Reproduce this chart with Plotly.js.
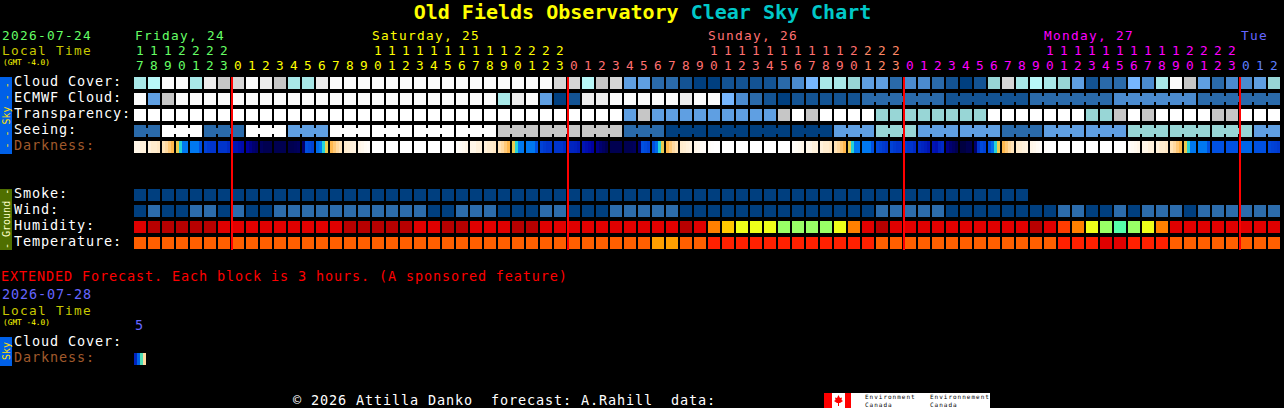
<!DOCTYPE html>
<html><head><meta charset="utf-8"><title>Clear Sky Chart</title>
<script src="https://cdn.plot.ly/plotly-3.0.1.min.js"></script>
<style>html,body{margin:0;padding:0;background:#000;overflow:hidden}#chart{width:1284px;height:408px}</style>
</head><body><div id="chart"></div>
<script>
// ---------- data ----------
const hours = [17,18,19,20,21,22,23,
 0,1,2,3,4,5,6,7,8,9,10,11,12,13,14,15,16,17,18,19,20,21,22,23,
 0,1,2,3,4,5,6,7,8,9,10,11,12,13,14,15,16,17,18,19,20,21,22,23,
 0,1,2,3,4,5,6,7,8,9,10,11,12,13,14,15,16,17,18,19,20,21,22,23,
 0,1,2];
const cloudCover = [7,8,12,12,7,11,9,10,12,11,9,7,7,11,
 12,12,12,12,12,12,12,12,12,12,12,12,12,12,12,12,
 10,10,8,9,10,4,4,2,2,1,0,0,1,1,1,1,2,3,5,7,7,6,
 4,4,2,3,3,2,1,0,1,6,10,7,8,7,6,4,1,2,2,5,3,7,12,9,4,2,3,3,4,6];
const ecmwfCloud = [12,4,9,12,12,12,12,12,12,12,12,12,12,12,12,12,12,12,12,12,12,12,12,12,12,12,
 7,11,12,4,0,1,11,11,12,12,12,12,12,11,12,12,5,3,2,1,0,1,1,1,1,1,
 2,2,2,2,2,2,1,1,1,1,1,1,2,2,2,2,2,2,3,3,3,3,3,3,2,2,2,2,2,2];
const transparency = [13,13,13,13,13,13,13,13,13,13,13,13,13,13,13,13,13,13,13,13,13,13,13,13,13,13,13,13,13,13,13,13,13,13,13,
 4,9,4,4,4,4,4,4,4,4,4,9,13,9,13,13,13,13,
 6,6,6,6,6,6,6,6,13,13,13,13,13,13,13,6,6,9,13,9,13,13,13,13,9,9,13,13,13];
const seeing = [2,2,13,13,13,2,2,2,13,13,13,4,4,4,13,13,13,13,13,13,13,13,13,13,13,13,
 9,9,9,9,9,9,9,9,9,2,2,2,0,0,0,0,0,0,0,0,0,0,0,0,
 4,4,4,6,6,6,4,4,4,4,4,4,2,2,2,4,4,4,4,4,4,6,6,6,6,6,6,6,6,6,4,4];
const darkness = [
 1,1,1.5,1.5, 1.5,2,2,2.2, 2.5,3,3.5,4, 4.6,6.2,8,8, 8,8,8,9, 9.5,9.8,10,10, 10,10,10,10.3,
 11,11,11.3,11.5, 12,12.5,13,13.3, 13.6,14,14,14, 14,14,14,14, 14,14,13.8,13.6, 13,9,9.2,9.5, 8.3,8,6.2,4.6,
 4,3.5,3,2.5, 2,1.8,1.5,1.3, 1,0.8,0.5,0.3, 0,0,0,0, 0,0,0,0, 0,0,0,0, 0,0,0,0, 0,0,0,0, 0,0,0,0, 0.3,0.5,0.7,1,
 1,1,1.5,1.5, 1.5,2,2,2.2, 2.5,3,3.5,4, 4.6,6.2,8,8, 8,8,8,9, 9.5,9.8,10,10, 10,10,10,10.3,
 10.5,10.5,10.6,10.8, 11,11.3,11.6,12, 12.5,13,13.5,14, 14,14,14,14, 14,14,13.8,13.6, 13,9,9.2,9.5, 9,8.3,6.2,4.6,
 4,3.5,3,2.5, 2,1.8,1.5,1.3, 1,0.8,0.5,0.3, 0.2,0.1,0,0, 0,0,0,0, 0,0,0,0, 0,0,0,0, 0,0,0,0, 0,0,0,0, 0.3,0.5,0.7,1,
 1,1,1.5,1.5, 1.5,2,2,2.2, 2.5,3,3.5,4, 4.6,6.2,8,8, 8,8,8,9, 9.3,9.5,9.8,10, 9.5,9.8,10,10,
 9.8,10,10,10.3, 10.3,10.5,10.7,11, 11,11.2,10.5,10.3, 12.5,13,13.5,14, 14.5,14.5,14,14, 13,10,9.2,9.5, 9,8.3,6.2,4.6,
 4,3.5,3,2.5, 2,1.8,1.5,1.3, 1,0.8,0.5,0.3, 0.2,0.1,0,0, 0,0,0,0, 0,0,0,0, 0,0,0,0, 0,0,0,0, 0,0,0,0, 0.3,0.5,0.7,1,
 1,1,1.5,1.5, 1.5,2,2,2.2, 2.5,3,3.5,4, 4.6,6.2,8,8, 8,8,8,9, 9,9,9,9, 9,9,9,9, 8.5,8.5,8.5,8.5, 9,9,9,9, 9.3,9.5,9.6,9.8];
const extendedDarkness = [10.5,8.5,5.8,3];
const smoke = [0,0,0,0,0,0,0,0,0,0,0,0,0,0,0,0,0,0,0,0,0,0,0,0,0,0,0,0,0,0,0,0,
 0,0,0,0,0,0,0,0,0,0,0,0,0,0,0,0,0,0,0,0,0,0,0,0,0,0,0,0,0,0,0,0];
const wind = [3,9,3,3,9,9,3,9,3,3,9,9,9,9,9,9,9,9,9,9,9,
 3,3,9,9,9,3,3,3,9,9,3,3,3,9,9,9,9,9,3,3,3,3,3,3,3,3,3,3,3,3,3,
 3,9,9,9,9,9,3,3,3,3,3,3,3,3,9,9,3,3,9,3,9,9,9,3,9,9,9,9,9,9];
const humidity = [95,100,100,100,100,100,95,95,95,95,95,95,95,95,95,100,100,100,100,100,95,
 95,100,100,95,95,95,100,100,95,95,95,95,95,95,95,95,95,95,100,95,80,75,70,70,70,65,65,65,65,70,80,
 95,100,95,95,95,95,95,95,95,95,95,95,100,95,85,80,70,65,60,65,70,80,95,95,95,95,95,95,95,95];
const temperature = [25,25,25,25,25,25,25,25,25,25,25,25,25,25,25,25,25,25,25,25,25,
 25,25,25,25,25,25,25,25,25,25,25,25,25,25,25,25,20,20,25,25,30,30,30,30,30,30,30,30,30,30,30,
 30,25,25,25,25,25,25,25,25,25,25,25,25,25,30,30,30,33,33,30,30,30,25,25,25,25,25,25,25,25];

const skyPalette = ['#003f7f','#135393','#2a6aaa','#4b8bcf','#5f9fe2','#76b6fe','#98d6d6','#a8e8e8',
 '#b8f8f8','#c6c6c6','#d6d6d6','#ececec','#fbfbfb','#ffffff'];
const humidityLevels = [60,65,70,75,80,85,95,100];
const humidityPalette = ['#55ffaa','#99ff66','#eeff1a','#ffc800','#ff8000','#ff3c00','#e00000','#b80000'];
const temperatureLevels = [20,25,30,33];
const temperaturePalette = ['#ffa000','#ff5f00','#ff2000','#e00000'];
const windLevels = [3,9];
const windPalette = ['#003f7f','#2c6cac'];
const darknessStops = ['#ffffff','#fff6e8','#ffecce','#ffd9a0','#ffb84d','#d8d850','#30e0d0','#00a0f0',
 '#0078f0','#0050e0','#0034cc','#0014b4','#0000a0','#000070','#000050','#000030'];

const rowLabels = [['Cloud Cover:',81,'#fff'],['ECMWF Cloud:',97,'#fff'],['Transparency:',113,'#fff'],['Seeing:',129,'#fff'],
 ['Darkness:',145,'#a05a2c'],['Smoke:',193,'#fff'],['Wind:',209,'#fff'],['Humidity:',225,'#fff'],['Temperature:',241,'#fff'],
 ['Cloud Cover:',341,'#fff'],['Darkness:',357,'#a05a2c']];
const midnights = [7,31,55,79];
const dayHeaders = [['Friday, 24',135,'#66ff66'],['Saturday, 25',372,'#ffff00'],['Sunday, 26',708,'#ff7070'],
 ['Monday, 27',1044,'#ff00ff'],['Tue',1241,'#6666ff']];

// ---------- pixel helpers (whole window is the plot) ----------
const W = 1284, H = 408, FONT = '"DejaVu Sans Mono", monospace';
const fx = px => px / W, fy = py => 1 - py / H;
const stepped = cols => {
  const out = [];
  cols.forEach((c, i) => { out.push([i / cols.length, c], [(i + 1) / cols.length, c]); });
  return out;
};
const cells = Array.from({length: 82}, (_, i) => i);
function row(y, z, palette, gapY) {
  return {type: 'heatmap', x: cells.slice(0, z.length), y: [y], z: [z], colorscale: stepped(palette),
    zmin: -0.5, zmax: palette.length - 0.5, showscale: false, xgap: 2, ygap: gapY || 4, hoverinfo: 'skip'};
}
function bridges(y, z, joined) {
  const xs = [], zs = [];
  for (let i = 0; i + 1 < z.length; i++) { xs.push(i + 0.5); zs.push(joined(i) ? z[i] : null); }
  return {type: 'heatmap', x: xs, y: [y], z: [zs], colorscale: stepped(skyPalette), zmin: -0.5,
    zmax: skyPalette.length - 0.5, showscale: false, xgap: 12, ygap: 10, hoverinfo: 'skip'};
}
function darkRow(y, samples) {
  const xs = [], zs = [], n = samples.length / 4;
  for (let i = 0; i < n; i++) {
    const s = samples.slice(i * 4, i * 4 + 4);
    const col = [null, s[0],s[0],s[0], s[1],s[1],s[1], s[2],s[2],s[2], s[3],s[3],s[3], null];
    col.forEach((v, j) => { xs.push(i - 0.5 + (j + 0.5) / 14); zs.push(v); });
  }
  return {type: 'heatmap', x: xs, y: [y], z: [zs], zmin: 0, zmax: 15, showscale: false, ygap: 4, hoverinfo: 'skip',
    colorscale: darknessStops.map((c, i) => [i / 15, c])};
}
const idx = (vals, levels) => vals.map(v => levels.indexOf(v));

const traces = [
  row(0, cloudCover, skyPalette), row(1, ecmwfCloud, skyPalette), row(2, transparency, skyPalette), row(3, seeing, skyPalette),
  bridges(1, ecmwfCloud, i => i >= 52 && (i - 51) % 6 !== 0),
  bridges(3, seeing, i => (i - 1) % 3 !== 0),
  darkRow(4, darkness),
  row(7, smoke, skyPalette), row(8, idx(wind, windLevels), windPalette),
  row(9, idx(humidity, humidityLevels), humidityPalette),
  row(10, idx(temperature, temperatureLevels), temperaturePalette),
  darkRow(17.25, extendedDarkness)
];

// ---------- text ----------
const ann = [];
const spaced = (text, size, advance) => '<span style="letter-spacing:' + (advance - size * 0.602).toFixed(2) + 'px">' + text + '</span>';
function txt(text, x, y, color, size, advance) {
  size = size || 13.5;
  ann.push({text: spaced(text, size, advance || 9), x: fx(x - 1), y: fy(y), xref: 'paper', yref: 'paper', xanchor: 'left', yanchor: 'middle',
    align: 'left', showarrow: false, borderpad: 0, font: {family: FONT, size, color}});
}
const TIGHT = 12.8;
rowLabels.forEach(r => txt(r[0], 14, r[1], r[2]));
dayHeaders.forEach(d => txt(d[0], d[1], 35, d[2], TIGHT));
txt('2026-07-24', 2, 35, '#66ff66', TIGHT);
txt('Local Time', 2, 50, '#c8c800', TIGHT);
txt('(GMT -4.0)', 3, 62, '#ffff00', 7.8, 4.7);
txt('EXTENDED Forecast. Each block is 3 hours. (A sponsored feature)', 1, 276, '#ff0000');
txt('2026-07-28', 2, 294, '#6666ff');
txt('Local Time', 2, 310, '#c8c800', TIGHT);
txt('(GMT -4.0)', 3, 322, '#ffff00', 7.8, 4.7);
txt('5', 135, 325, '#6666ff');
txt('\u00a9 2026 Attilla Danko\u00a0\u00a0forecast: A.Rahill\u00a0\u00a0data:', 293, 400, '#ffffff');
hours.forEach((h, i) => {
  const c = i < 7 ? '#66ff66' : i < 31 ? '#ffff00' : i < 52 ? '#ff7070' : i < 55 ? '#ff8866' : i < 79 ? '#ff00ff' : '#5f7fff';
  const digit = (t, py) => ann.push({text: t, x: i, y: fy(py), xref: 'x', yref: 'paper', xanchor: 'center', yanchor: 'middle',
    showarrow: false, borderpad: 0, font: {family: FONT, size: TIGHT, color: c}});
  if (h >= 10) digit(String(Math.floor(h / 10)), 50);
  digit(String(h % 10), 65);
});
const sideText = (t, y, color) => ann.push({text: t, x: fx(6), y: fy(y), xref: 'paper', yref: 'paper', xanchor: 'center', yanchor: 'middle',
  textangle: -90, showarrow: false, borderpad: 0, font: {family: FONT, size: 10, color}});
sideText('- - Sky - -', 115.5, '#ffe000');
sideText('- Ground -', 219, '#ffffc8');
sideText('Sky', 351, '#ffe000');
txt('Environment<br>Canada', 865, 400.5, '#000', 6, 4.6);
txt('Environnement<br>Canada', 930, 400.5, '#000', 6, 4.6);

// ---------- shapes ----------
const rect = (x0, y0, x1, y1, c) => ({type: 'rect', xref: 'paper', yref: 'paper', x0: fx(x0), x1: fx(x1), y0: fy(y0), y1: fy(y1),
  fillcolor: c, line: {width: 0}, layer: 'below'});
const shapes = [
  rect(0, 77, 12, 154, '#0060e8'), rect(0, 189, 12, 250, '#4f6f00'), rect(0, 337, 12, 366, '#0060e8'),
  rect(824, 393, 990, 408, '#ffffff'), rect(824, 393, 832, 408, '#ff0000'), rect(845, 393, 851, 408, '#ff0000')
];
const leaf = [[838.5,395],[840,398],[842,397.5],[841.5,400],[843,401],[840,403],[839,403],[839,406],[838,406],[838,403],[837,403],[834,401],[835.5,400],[835,397.5],[837,398]];
shapes.push({type: 'path', xref: 'paper', yref: 'paper', fillcolor: '#ff0000', line: {width: 0}, layer: 'above',
  path: 'M' + leaf.map(p => fx(p[0]) + ',' + fy(p[1])).join('L') + 'Z'});
midnights.forEach(m => shapes.push({type: 'line', xref: 'x', yref: 'paper', x0: m - 6 / 14, x1: m - 6 / 14, y0: fy(77), y1: fy(250),
  line: {color: '#ff0000', width: 2}, layer: 'above'}));

const layout = {
  width: W, height: H, margin: {l: 0, r: 0, t: 0, b: 0}, paper_bgcolor: '#000', plot_bgcolor: '#000', showlegend: false,
  title: {text: '<span style="color:#ffff00">Old Fields Observatory</span> <span style="color:#00c8c8">Clear Sky Chart</span>',
    x: 642.5 / W, y: 1 - 12 / H, xref: 'paper', yref: 'paper', xanchor: 'center', yanchor: 'middle',
    font: {family: FONT, size: 20, weight: 'bold', color: '#ffff00'}},
  xaxis: {visible: false, range: [-10, (W - 140) / 14], fixedrange: true},
  yaxis: {visible: false, range: [(H - 83) / 16, -83 / 16], fixedrange: true},
  annotations: ann, shapes
};
Plotly.newPlot('chart', traces, layout, {staticPlot: true, displayModeBar: false});
</script></body></html>
